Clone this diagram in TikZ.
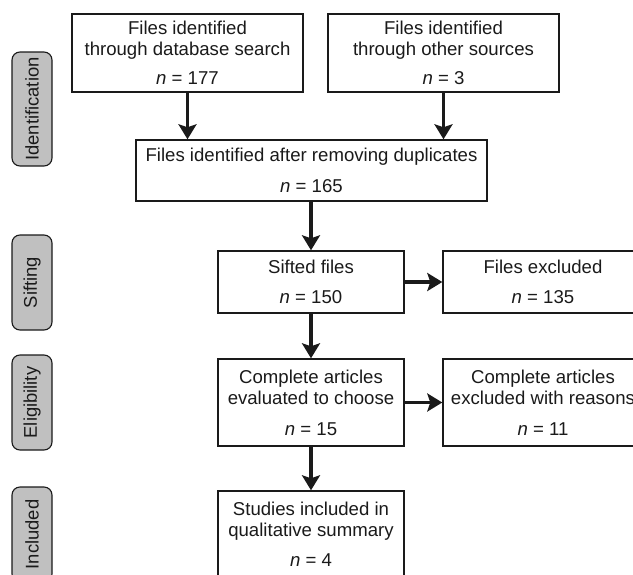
\documentclass[tikz,border=0pt]{standalone}
\usepackage{fontspec}
\setmainfont{Liberation Sans}
\usetikzlibrary{arrows.meta}
\definecolor{ink}{HTML}{1A1A1A}
\definecolor{phase}{HTML}{C0C0C0}
\begin{document}
\begin{tikzpicture}[x=1pt,y=-1pt,
  box/.style={draw=ink,line width=1.4pt,text=ink,align=center,inner sep=0pt,
    font=\fontsize{18.6}{21}\selectfont},
  phasebox/.style={draw=ink,line width=1.1pt,fill=phase,rounded corners=8pt,
    minimum height=40pt,inner sep=0pt,text=ink,rotate=90,
    font=\fontsize{18.4}{21}\selectfont},
  flow/.style={draw=ink,line width=3.1pt,-{Stealth[length=15pt,width=18pt,inset=3pt]}}]
\useasboundingbox (0,0) rectangle (633,574);
\begin{scope}
\clip (0,0) rectangle (633,574);
% boxes
\node[box,minimum width=231pt,minimum height=78pt] (b1) at (187.5,53)
  {Files identified\\through database search\\[8pt]\textit{n} = 177};
\node[box,minimum width=231pt,minimum height=78pt] (b2) at (443.5,53)
  {Files identified\\through other sources\\[8pt]\textit{n} = 3};
\node[box,minimum width=351pt,minimum height=61pt] (b3) at (311.5,170.5)
  {Files identified after removing duplicates\\[10pt]\textit{n} = 165};
\node[box,minimum width=186pt,minimum height=62pt] (b4) at (311,282)
  {Sifted files\\[9pt]\textit{n} = 150};
\node[box,minimum width=200pt,minimum height=62pt] (b5) at (543,282)
  {Files excluded\\[9pt]\textit{n} = 135};
\node[box,minimum width=186pt,minimum height=87pt] (b6) at (311,402.5)
  {Complete articles\\evaluated to choose\\[10pt]\textit{n} = 15};
\node[box,minimum width=200pt,minimum height=87pt] (b7) at (543,402.5)
  {Complete articles\\excluded with reasons\\[10pt]\textit{n} = 11};
\node[box,minimum width=186pt,minimum height=87pt] (b8) at (311,534.5)
  {Studies included in\\qualitative summary\\[9pt]\textit{n} = 4};
% phase labels
\node[phasebox,minimum width=114pt] (p1) at (32,109) {Identification};
\node[phasebox,minimum width=95pt] (p2) at (32,282.5) {Sifting};
\node[phasebox,minimum width=95pt] (p3) at (32,402.5) {Eligibility};
\node[phasebox,minimum width=95pt] (p4) at (32,534.5) {Included};
% connectors
\draw[flow] (b1.south) -- (b1.south |- b3.north);
\draw[flow] (b2.south) -- (b2.south |- b3.north);
\draw[flow] (b3.south -| b4.north) -- (b4.north);
\draw[flow] (b4.east) -- (b5.west);
\draw[flow] (b4.south) -- (b6.north);
\draw[flow] (b6.east) -- (b7.west);
\draw[flow] (b6.south) -- (b8.north);
\end{scope}
\end{tikzpicture}
\end{document}
